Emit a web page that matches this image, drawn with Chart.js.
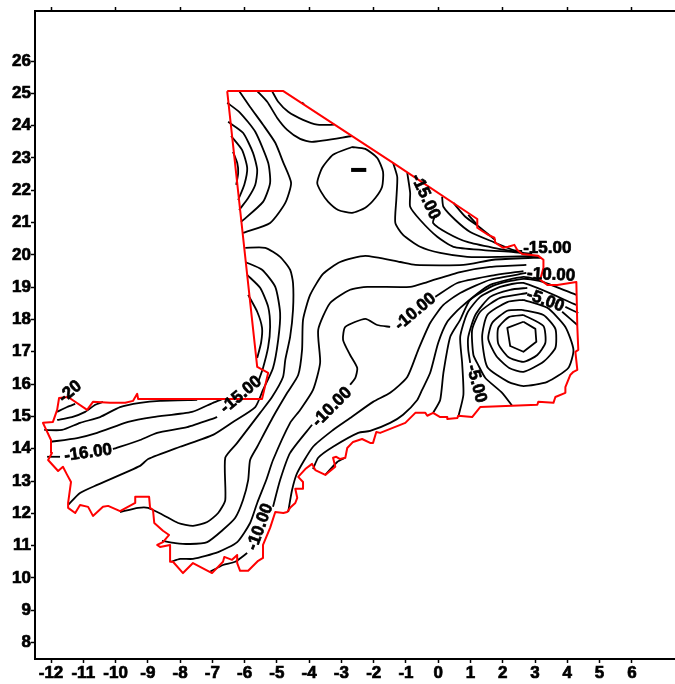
<!DOCTYPE html>
<html><head><meta charset="utf-8">
<style>html,body{margin:0;padding:0;background:#fff}canvas{display:block}</style>
<script src="https://cdn.jsdelivr.net/npm/chart.js@4"></script>
</head><body><canvas id="c" width="675" height="684"></canvas>
<script>
const xTicks=[-12,-11,-10,-9,-8,-7,-6,-5,-4,-3,-2,-1,0,1,2,3,4,5,6];
const xTopTicks=[-12,-10,-8,-6,-4,-2,0,2,4,6];
const yTicks=[8,9,10,11,12,13,14,15,16,17,18,19,20,21,22,23,24,25,26];

const border=[[-6.54,25.07],[-4.80,25.07],[-1.40,22.85],[1.21,21.11],[1.21,20.84],[1.36,20.74],[1.55,20.62],[1.74,20.53],[1.77,20.37],[2.02,20.22],[2.17,20.25],[2.36,20.31],[2.45,20.15],[2.60,20.03],[3.10,19.97],[3.26,19.85],[3.26,19.60],[3.16,19.23],[3.38,19.07],[3.69,19.07],[4.28,19.16],[4.31,17.77],[4.34,17.06],[4.25,17.00],[4.31,16.44],[4.19,16.38],[4.09,16.28],[4.03,16.13],[3.94,15.91],[3.94,15.73],[3.63,15.60],[3.57,15.42],[3.10,15.45],[3.07,15.36],[1.30,15.29],[1.05,14.98],[0.62,15.02],[0.59,14.95],[0.28,14.92],[0.28,14.98],[0.06,14.98],[-0.16,15.11],[-0.34,15.02],[-0.40,15.11],[-0.71,15.11],[-1.02,14.80],[-1.80,14.49],[-1.92,14.52],[-2.02,14.18],[-2.11,14.18],[-2.36,14.30],[-2.64,14.21],[-2.82,14.02],[-2.88,13.72],[-3.04,13.68],[-3.16,13.75],[-3.26,13.72],[-3.19,13.44],[-3.50,13.19],[-3.81,13.34],[-3.91,13.53],[-4.12,13.37],[-4.34,13.13],[-4.19,12.97],[-4.19,12.76],[-4.43,12.76],[-4.37,12.48],[-4.43,12.32],[-4.59,12.17],[-4.68,12.04],[-4.80,12.01],[-5.05,12.04],[-5.21,11.55],[-5.43,11.02],[-5.43,10.62],[-5.58,10.53],[-5.89,10.22],[-6.14,10.22],[-6.23,10.46],[-6.23,10.71],[-6.39,10.56],[-6.63,10.65],[-6.67,10.50],[-7.01,10.15],[-7.32,10.31],[-7.60,10.46],[-7.91,10.15],[-8.22,10.50],[-8.31,10.50],[-8.31,11.02],[-8.62,10.96],[-8.71,11.02],[-8.53,11.11],[-8.34,11.33],[-8.53,11.46],[-8.80,11.70],[-8.84,12.11],[-8.93,12.17],[-8.96,12.51],[-9.39,12.51],[-9.39,12.32],[-9.86,12.07],[-10.23,12.23],[-10.39,12.20],[-10.70,11.92],[-10.85,12.20],[-11.10,12.26],[-11.25,12.01],[-11.47,12.17],[-11.47,12.32],[-11.38,12.97],[-11.50,13.19],[-11.63,13.44],[-11.78,13.31],[-12.09,13.65],[-11.97,13.87],[-12.00,14.27],[-12.25,14.80],[-11.94,14.83],[-11.81,15.20],[-11.75,15.57],[-11.47,15.60],[-10.88,15.20],[-10.70,15.45],[-10.17,15.42],[-9.70,15.42],[-9.46,15.48],[-9.33,15.70],[-9.30,15.54],[-5.46,15.54],[-5.27,16.35],[-5.61,16.53],[-6.54,25.07]];

const north1=[[-5.15,25.07],[-4.96,24.74],[-4.65,24.43],[-4.19,24.18],[-3.75,24.03],[-3.22,24.03]];
const north2=[[-5.61,25.07],[-5.30,24.74],[-4.99,24.24],[-4.68,23.87],[-4.28,23.59],[-3.91,23.50],[-2.67,23.68]];
const north3=[[-6.17,25.07],[-5.83,24.58],[-5.43,24.03],[-5.05,23.47],[-4.81,22.88],[-4.56,22.23],[-4.74,21.61],[-5.21,20.99],[-6.05,20.68]];
const north4=[[-6.54,24.71],[-6.14,24.40],[-5.67,23.81],[-5.27,22.85],[-5.21,22.23],[-5.43,21.64],[-6.11,21.02]];
const north5=[[-6.51,24.12],[-6.05,23.78],[-5.74,23.16],[-5.61,22.63],[-5.67,22.17],[-5.89,21.76],[-6.17,21.39]];
const north6=[[-6.42,23.68],[-6.08,23.25],[-5.92,22.69],[-6.01,22.17],[-6.20,21.70]];
const north7=[[-6.36,23.19],[-6.23,22.85],[-6.20,22.54],[-6.26,22.17]];
const oval=[[-2.67,23.34],[-2.26,23.28],[-1.89,23.00],[-1.71,22.57],[-1.74,22.11],[-1.95,21.76],[-2.26,21.46],[-2.67,21.30],[-3.10,21.39],[-3.41,21.64],[-3.63,21.95],[-3.75,22.23],[-3.60,22.69],[-3.26,23.10],[-2.67,23.34]];
const spot=[[-4.22,24.72],[-4.16,24.66]];

const west1=[[-5.98,20.22],[-5.36,20.22],[-4.90,19.94],[-4.59,19.54],[-4.50,19.13],[-4.50,18.30],[-4.59,17.46],[-4.74,16.75],[-4.81,16.22],[-5.15,15.60],[-5.52,15.11],[-6.23,14.18],[-6.60,13.72],[-6.60,12.41],[-6.82,12.01],[-7.16,11.73],[-7.60,11.61],[-8.06,11.70],[-8.53,11.95],[-8.99,12.17],[-9.30,12.17],[-9.86,12.04]];
const west2=[[-5.98,19.78],[-5.46,19.54],[-5.05,19.01],[-4.90,18.20],[-4.96,17.37],[-5.12,16.50],[-5.43,15.82],[-5.67,15.29],[-6.36,14.83],[-6.98,14.43],[-8.00,14.06],[-8.99,13.68],[-9.24,13.47],[-10.57,12.88],[-11.10,12.63],[-11.47,12.26]];
const west3a=[[-5.92,19.38],[-5.52,18.98],[-5.27,18.39],[-5.21,17.77],[-5.27,17.15],[-5.43,16.50],[-5.58,16.07]];
const west3b=[[-6.85,14.98],[-7.78,14.67],[-8.71,14.49],[-9.24,14.27],[-10.08,13.99]];
const west3c=[[-11.72,13.75],[-12.12,13.75]];
const west4=[[-5.89,18.76],[-5.61,18.24],[-5.46,17.74],[-5.49,17.28],[-5.61,16.81]];
const westA=[[-11.81,15.14],[-11.50,15.29],[-11.25,15.39]];
const westB=[[-11.81,14.89],[-11.35,14.98],[-10.94,15.14],[-10.63,15.36],[-10.39,15.45]];
const westC=[[-12.21,14.58],[-11.66,14.58],[-11.10,14.80],[-10.48,14.98],[-9.86,15.29],[-9.24,15.42],[-8.62,15.48],[-7.47,15.51]];
const westD=[[-12.03,14.21],[-11.19,14.33],[-10.57,14.49],[-9.61,14.83],[-8.84,14.98],[-7.63,15.14],[-6.98,15.42],[-6.67,15.54]];

const centre1=[[-8.56,11.15],[-8.15,11.08],[-7.69,11.05],[-7.16,11.11],[-6.67,11.49],[-6.29,11.86],[-6.05,12.41],[-5.89,13.03],[-5.83,13.65],[-5.61,14.06],[-5.12,14.98],[-4.68,15.73],[-4.34,16.28],[-4.22,17.06],[-4.19,17.99],[-3.97,18.76],[-3.57,19.41],[-3.04,19.78],[-2.26,19.97],[-1.18,19.78],[-0.71,19.69],[0.78,19.69],[1.71,19.85],[2.95,19.91],[3.19,19.91]];
const centre2=[[-8.28,10.50],[-8.00,10.59],[-7.60,10.59],[-6.82,10.80],[-6.23,11.11],[-5.83,11.70],[-5.61,12.32],[-5.33,13.03],[-5.12,13.65],[-4.59,14.80],[-4.28,15.20],[-3.88,15.82],[-3.66,16.66],[-3.72,17.68],[-3.35,18.51],[-2.73,18.92],[-2.20,19.01],[-0.87,19.01],[-0.34,19.16],[0.68,19.47],[1.61,19.63],[2.73,19.69]];
const loopA=[[-1.49,17.77],[-1.89,17.83],[-2.26,18.02],[-2.88,17.77],[-2.95,17.37],[-2.73,16.90],[-2.51,16.50],[-2.57,16.19],[-2.73,15.98]];
const loopB=[[-3.91,14.74],[-4.59,13.87],[-4.90,13.03],[-5.12,12.20]];
const loopC=[[-5.92,10.77],[-6.29,10.50],[-6.67,10.40],[-7.07,10.19]];
const fan1=[[-0.09,18.70],[0.59,19.13],[1.61,19.35],[2.64,19.50]];
const fan2=[[2.73,19.44],[1.61,19.23],[0.68,18.82],[0.16,18.45],[-0.25,17.89],[-0.62,17.06],[-0.96,16.22],[-1.49,15.73],[-2.02,15.45],[-2.73,14.95],[-3.26,14.58],[-3.88,14.06],[-4.37,13.25],[-4.53,12.72],[-4.65,12.04]];
const fan3=[[3.16,19.23],[2.64,19.32],[1.61,19.07],[0.68,18.36],[0.28,17.93],[0,17.28],[-0.25,16.35],[-0.50,15.82],[-0.65,15.51],[-1.09,15.05],[-1.49,14.80],[-2.11,14.55],[-2.48,14.49],[-3.26,14.06],[-3.72,13.72],[-3.88,13.37]];
const fan4=[[4.28,18.76],[3.26,19.16],[2.64,19.26],[1.77,19.07],[0.99,18.61],[0.68,17.99],[0.37,17.46],[0.16,16.35],[0.06,15.51],[-0.16,15.11]];
const fan5=[[4.28,18.45],[2.64,19.13],[1.92,19.01],[1.30,18.70],[0.90,18.20],[0.68,17.46],[0.74,16.66],[0.78,15.67],[0.62,14.98]];
const fan6a=[[2.76,18.98],[2.23,18.92],[1.61,18.70],[1.15,18.14],[0.93,17.46],[0.93,17.06],[0.99,16.66]];
const fan6b=[[3.94,18.39],[4.34,18.20]];
const fan7a=[[2.76,18.82],[1.92,18.67],[1.30,18.24],[1.05,17.68],[1.09,16.90],[1.24,16.59],[1.46,16.19],[1.98,15.73],[2.29,15.33]];
const fan7b=[[3.84,18.24],[4.31,17.83]];
const ring4=[[2.64,18.61],[3.38,18.36],[3.94,17.77],[4.19,17.06],[4.03,16.50],[3.38,16.07],[2.64,15.94],[2.17,16.07],[1.52,16.53],[1.36,17.46],[1.52,18.14],[2.14,18.54],[2.64,18.61]];
const ring3=[[2.60,18.30],[3.26,18.14],[3.63,17.71],[3.63,17.12],[3.26,16.69],[2.64,16.38],[2.20,16.50],[1.80,16.87],[1.55,17.40],[1.67,17.89],[2.14,18.27],[2.60,18.30]];
const ring2=[[2.64,18.14],[3.26,17.80],[3.32,17.28],[3.07,16.90],[2.64,16.69],[2.17,16.84],[1.86,17.25],[1.86,17.74],[2.20,18.08],[2.64,18.14]];
const ring1=[[2.64,17.93],[3.01,17.71],[3.04,17.31],[2.64,17.00],[2.23,17.18],[2.14,17.74],[2.64,17.93]];
const east1=[[-1.40,22.85],[-1.27,22.41],[-1.30,21.70],[-1.33,20.99],[-1.09,20.62],[-0.56,20.25],[0.06,20.06],[0.90,19.94],[1.92,19.94],[3.10,19.97]];
const east2=[[-0.96,22.54],[-0.87,21.92],[-0.87,21.49],[-0.56,21.08],[-0.03,20.56],[0.47,20.25],[1.40,20.15],[2.33,20.09],[2.91,20.03]];
const east3=[[-0.09,21.24],[-0.16,20.99],[0.28,20.68],[0.90,20.40],[1.71,20.22],[2.64,20.06]];
const east4=[[0.12,21.80],[0.16,21.49],[0.53,21.08],[0.99,20.71],[1.71,20.40],[2.33,20.15],[2.60,20.12]];
const east5=[[0.47,21.61],[0.84,21.18],[1.30,20.84],[1.77,20.46]];
const east6=[[0.93,21.24],[1.21,20.93]];
const south1=[[-2.88,13.72],[-3.13,13.59],[-3.50,13.19]];
const minimumMark=[[-2.70,22.63],[-2.23,22.63]];

const contours=[north1,north2,north3,north4,north5,north6,north7,oval,spot,west1,west2,west3a,west3b,west3c,west4,westA,westB,westC,westD,centre1,centre2,loopA,loopB,loopC,fan1,fan2,fan3,fan4,fan5,fan6a,fan6b,fan7a,fan7b,ring4,ring3,ring2,ring1,east1,east2,east3,east4,east5,east6,south1];

const labelText=["-15.00","-15.00","-10.00","-5.00","-10.00","-5.00","-10.00","-15.00","-20","-16.00","-10.00"];
const labelX=[-0.40,3.38,3.50,3.32,-0.71,1.18,-3.29,-6.11,-11.41,-10.85,-5.52];
const labelY=[21.80,20.19,19.38,18.58,18.24,16.01,15.29,15.67,15.76,13.87,11.58];
const labelAngle=[65,0,3,20,-40,75,-45,-40,-40,-8,-70];

const FONT='bold 17px "Liberation Sans", Arial, sans-serif';
const pts=a=>a.map(p=>({x:p[0],y:p[1]}));
const line=(a,color,w,t)=>({data:pts(a),borderColor:color,borderWidth:w,showLine:true,pointRadius:0,tension:t,fill:false,clip:false,borderJoinStyle:'round'});

const labelPlugin={id:'contourLabels',afterDatasetsDraw(ch){
  const c=ch.ctx,sx=ch.scales.x,sy=ch.scales.y;
  c.save();c.font=FONT;c.fillStyle='#000';c.strokeStyle='#000';c.lineWidth=0.7;c.lineJoin='round';c.textAlign='center';c.textBaseline='middle';
  labelText.forEach((t,i)=>{c.save();c.translate(sx.getPixelForValue(labelX[i]),sy.getPixelForValue(labelY[i]));c.rotate(labelAngle[i]*Math.PI/180);c.fillText(t,0,0);c.strokeText(t,0,0);c.restore();});
  c.restore();
}};
const gridOpt={display:true,drawOnChartArea:false,drawTicks:true,tickLength:4,tickColor:'#000',tickWidth:1.5};
const borderOpt={display:true,color:'#000',width:2};
const tickFont={family:'"Liberation Sans"',size:17,weight:'bold'};

new Chart(document.getElementById('c'),{
  type:'scatter',
  data:{datasets:[line(border,'#ff0000',2,0),line(minimumMark,'#000',4,0)].concat(contours.map(a=>line(a,'#000',1.8,a===ring1?0:0.2)))},
  plugins:[labelPlugin],
  options:{
    responsive:false,animation:false,devicePixelRatio:1,
    layout:{padding:0},
    plugins:{legend:{display:false},tooltip:{enabled:false},title:{display:false}},
    scales:{
      x:{type:'linear',position:'bottom',min:-12.496,max:7.337,grid:gridOpt,border:borderOpt,
        afterBuildTicks:s=>{s.ticks=xTicks.map(v=>({value:v}));},
        afterFit:s=>{s.height=25;},
        ticks:{autoSkip:false,maxRotation:0,minRotation:0,padding:0,color:'#000',textStrokeColor:'#000',textStrokeWidth:0.7,font:tickFont,callback:v=>String(v)}},
      xTop:{type:'linear',position:'top',min:-12.496,max:7.337,grid:gridOpt,border:borderOpt,
        afterBuildTicks:s=>{s.ticks=xTopTicks.map(v=>({value:v}));},
        afterFit:s=>{s.height=11;},
        ticks:{autoSkip:false,maxRotation:0,display:false}},
      y:{type:'linear',position:'left',min:7.49,max:27.55,grid:gridOpt,border:borderOpt,
        afterBuildTicks:s=>{s.ticks=yTicks.map(v=>({value:v}));},
        afterFit:s=>{s.width=35;},
        ticks:{autoSkip:false,padding:0,color:'#000',textStrokeColor:'#000',textStrokeWidth:0.7,font:tickFont,callback:v=>String(v)}}
    }
  }
});
</script></body></html>
